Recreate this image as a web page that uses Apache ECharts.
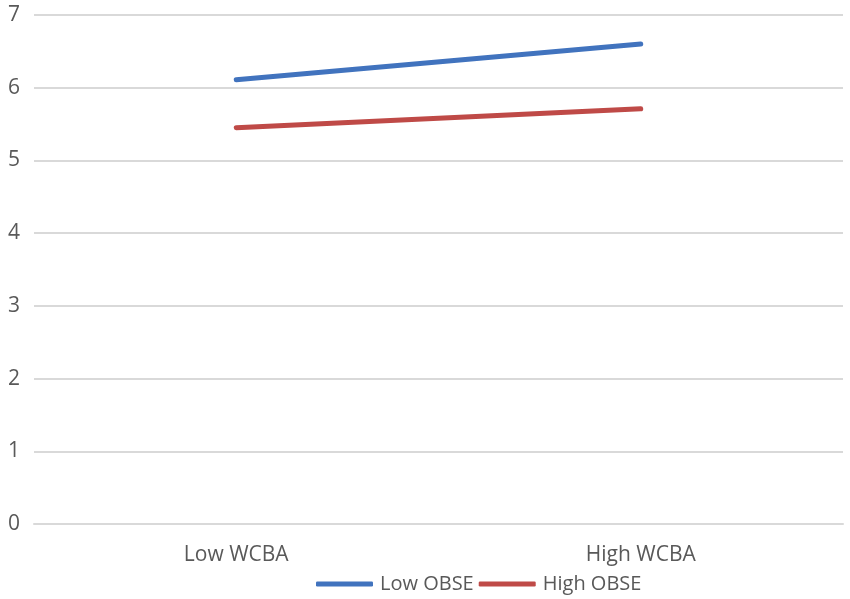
<!DOCTYPE html>
<html>
<head>
  <meta charset="utf-8">
  <title>WCBA x OBSE</title>
  <script src="https://cdn.jsdelivr.net/npm/echarts@6/dist/echarts.min.js"></script>
  <style>
  html, body { margin: 0; padding: 0; background: #fff; }
  #main { width: 850px; height: 599px; }
  </style>
</head>
<body>
  <div id="main"></div>
  <script type="text/javascript">
  var categories = ['Low WCBA', 'High WCBA'];
  var lowObse = [6.11, 6.60];
  var highObse = [5.45, 5.71];
  var seriesNames = ['Low OBSE', 'High OBSE'];

  var textColor = '#595959';
  var font = '"Open Sans", "Noto Sans", sans-serif';

  var myChart = echarts.init(document.getElementById('main'));
  var option = {
    animation: false,
    grid: { left: 34, right: 7, top: 15, bottom: 75, containLabel: false },
    legend: {
      data: seriesNames,
      top: 569,
      left: 311,
      icon: 'roundRect',
      itemWidth: 57,
      itemHeight: 5,
      itemGap: 5,
      textStyle: { color: textColor, fontSize: 20, fontFamily: font, padding: [0, 0, 0, 2] }
    },
    xAxis: {
      type: 'category',
      data: categories,
      boundaryGap: true,
      axisLine: { show: true, lineStyle: { color: '#d9d9d9', width: 2 } },
      axisTick: { show: false },
      axisLabel: { color: textColor, fontSize: 21, fontFamily: font, margin: 21 }
    },
    yAxis: {
      type: 'value',
      min: 0,
      max: 7,
      interval: 1,
      axisLine: { show: false },
      axisTick: { show: false },
      axisLabel: { color: textColor, fontSize: 21, fontFamily: font, margin: 14 },
      splitLine: { lineStyle: { color: '#d9d9d9', width: 2 } }
    },
    series: [
      {
        name: seriesNames[0],
        type: 'line',
        data: lowObse,
        symbol: 'none',
        color: '#4173BE',
        lineStyle: { width: 5, cap: 'round' }
      },
      {
        name: seriesNames[1],
        type: 'line',
        data: highObse,
        symbol: 'none',
        color: '#BF4A47',
        lineStyle: { width: 5, cap: 'round' }
      }
    ]
  };
  myChart.setOption(option);
  window.onresize = myChart.resize;
  </script>
</body>
</html>
